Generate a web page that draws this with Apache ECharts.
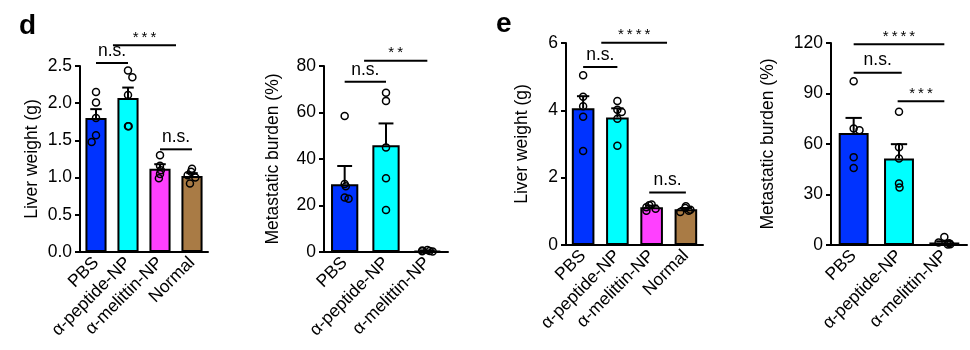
<!DOCTYPE html>
<html><head><meta charset="utf-8">
<script src="https://cdn.jsdelivr.net/npm/echarts@6/dist/echarts.min.js"></script>
<style>html,body{margin:0;padding:0;background:#fff}#c{width:970px;height:350px}</style>
</head><body><div id="c"></div>
<script>
// ---------- data ----------
const cats4 = ['PBS', 'α-peptide-NP', 'α-melittin-NP', 'Normal'];
const cats3 = ['PBS', 'α-peptide-NP', 'α-melittin-NP'];
const barColors = ['#0033ff', '#00ffff', '#ff40ff', '#a97b45'];

// panel d, liver weight (g)
const dLiverMean = [1.80, 2.07, 1.12, 1.02];
const dLiverErrTop = [1.92, 2.21, 1.18, 1.06];
const dLiverPts = [
  [2.15, 2.01, 1.80, 1.57, 1.48],
  [2.44, 2.35, 2.11, 1.69, 1.69],
  [1.30, 1.16, 1.10, 1.05, 0.99],
  [1.12, 1.08, 1.03, 1.00, 0.92]
];
const dLiverSig = [[0, 1, 2.54, 'n.s.'], [0.53, 2.5, 2.78, '***'], [2, 3, 1.38, 'n.s.']];

// panel d, metastatic burden (%)
const dMetMean = [29.1, 45.9, 0.5];
const dMetErrTop = [37.0, 55.3, 0.7];
const dMetPts = [
  [58.5, 29.2, 28.3, 23.4, 22.9],
  [68.5, 65.0, 45.0, 31.7, 18.1],
  [0.9, 0.6, 0.4, 0.3, 0.2]
];
const dMetSig = [[0, 1, 73.2, 'n.s.'], [0.47, 2, 82.3, '**']];

// panel e, liver weight (g)
const eLiverMean = [4.06, 3.79, 1.12, 1.06];
const eLiverErrTop = [4.42, 4.06, 1.17, 1.10];
const eLiverPts = [
  [5.04, 4.40, 4.12, 3.81, 2.79],
  [4.28, 4.02, 3.95, 3.75, 2.95],
  [1.20, 1.18, 1.12, 1.08, 1.02],
  [1.15, 1.10, 1.05, 1.02, 0.98]
];
const eLiverSig = [[0, 1, 5.29, 'n.s.'], [0.53, 2.45, 6.01, '****'], [1.93, 3, 1.56, 'n.s.']];

// panel e, metastatic burden (%)
const eMetMean = [66.6, 51.4, 1.5];
const eMetErrTop = [75.5, 59.9, 2.2];
const eMetPts = [
  [97.3, 69.2, 68.2, 52.2, 45.7],
  [79.1, 58.0, 51.4, 36.6, 34.2],
  [4.8, 1.5, 1.0, 0.5, 0.3]
];
const eMetSig = [[0, 2, 119.2, '****'], [0, 1.06, 102.4, 'n.s.'], [0.97, 2, 85.4, '***']];

// ---------- chart ----------
const FONT = 'Liberation Sans, Arial, Helvetica, sans-serif';
const FS = 17.5;
const panels = [
  {cats: cats4, mean: dLiverMean, err: dLiverErrTop, pts: dLiverPts, sig: dLiverSig,
   grid: {left: 80, top: 66, width: 128, height: 186}, min: 0, max: 2.5, interval: 0.5, dec: 1,
   name: 'Liver weight (g)', nameGap: 39},
  {cats: cats3, mean: dMetMean, err: dMetErrTop, pts: dMetPts, sig: dMetSig,
   grid: {left: 324, top: 66, width: 124, height: 186}, min: 0, max: 80, interval: 20, dec: 0,
   name: 'Metastatic burden (%)', nameGap: 42},
  {cats: cats4, mean: eLiverMean, err: eLiverErrTop, pts: eLiverPts, sig: eLiverSig,
   grid: {left: 566, top: 43, width: 137, height: 202}, min: 0, max: 6, interval: 2, dec: 0,
   name: 'Liver weight (g)', nameGap: 35},
  {cats: cats3, mean: eMetMean, err: eMetErrTop, pts: eMetPts, sig: eMetSig,
   grid: {left: 831, top: 43, width: 136, height: 202}, min: 0, max: 120, interval: 30, dec: 0,
   name: 'Metastatic burden (%)', nameGap: 54}
];

function catX(api, v, y) {
  const base = Math.floor(v);
  const pt = api.coord([base, y]);
  return [pt[0] + (v - base) * api.size([1, 0])[0], pt[1]];
}

const grids = [], xAxes = [], yAxes = [], series = [];
const axisLineStyle = {color: '#000', width: 2};
panels.forEach((p, gi) => {
  grids.push(Object.assign({}, p.grid));
  xAxes.push({
    type: 'category', gridIndex: gi, data: p.cats,
    jitter: 12, jitterOverlap: false, jitterMargin: 1,
    axisLine: {lineStyle: axisLineStyle},
    axisTick: {alignWithLabel: true, length: 5, lineStyle: {color: '#000', width: 2}},
    axisLabel: {rotate: 45, interval: 0, fontSize: FS, color: '#000', fontFamily: FONT, margin: 8}
  });
  yAxes.push({
    type: 'value', gridIndex: gi, min: p.min, max: p.max, interval: p.interval,
    axisLine: {show: true, lineStyle: axisLineStyle},
    axisTick: {show: true, length: 5, lineStyle: {color: '#000', width: 2}},
    splitLine: {show: false},
    axisLabel: {fontSize: FS, color: '#000', fontFamily: FONT, margin: 8,
      formatter: v => v.toFixed(p.dec)},
    name: p.name, nameLocation: 'middle', nameGap: p.nameGap,
    nameTextStyle: {fontSize: FS, color: '#000', fontFamily: FONT}
  });
  series.push({
    type: 'bar', xAxisIndex: gi, yAxisIndex: gi, barWidth: '66%',
    data: p.mean.map((v, i) => ({value: v, itemStyle: {color: barColors[i]}})),
    itemStyle: {borderColor: '#000', borderWidth: 2},
    silent: true, z: 2
  });
  series.push({
    type: 'custom', xAxisIndex: gi, yAxisIndex: gi, z: 3,
    data: p.mean.map((v, i) => [i, v, p.err[i]]),
    renderItem: (params, api) => {
      const a = api.coord([api.value(0), api.value(1)]);
      const b = api.coord([api.value(0), api.value(2)]);
      const w = api.size([1, 0])[0] * 0.36;
      return {type: 'group', children: [
        {type: 'line', shape: {x1: a[0], y1: a[1], x2: b[0], y2: b[1]}, style: {stroke: '#000', lineWidth: 2}},
        {type: 'line', shape: {x1: b[0] - w / 2, y1: b[1], x2: b[0] + w / 2, y2: b[1]}, style: {stroke: '#000', lineWidth: 2}}
      ]};
    }
  });
  const sd = [];
  p.pts.forEach((arr, i) => arr.forEach(v => sd.push([i, v])));
  series.push({
    type: 'scatter', xAxisIndex: gi, yAxisIndex: gi, z: 4,
    symbol: 'circle', symbolSize: 7, data: sd,
    itemStyle: {color: 'rgba(255,255,255,0)', borderColor: '#000', borderWidth: 1.5, opacity: 1}
  });
  series.push({
    type: 'custom', xAxisIndex: gi, yAxisIndex: gi, z: 5, clip: false,
    data: p.sig.map(s => [s[0], s[1], s[2]]),
    renderItem: (params, api) => {
      const s = p.sig[params.dataIndex];
      const a = catX(api, s[0], s[2]);
      const b = catX(api, s[1], s[2]);
      const star = s[3].indexOf('*') >= 0;
      const txt = star ? s[3].split('').join('\u2009') : s[3];
      return {type: 'group', children: [
        {type: 'line', shape: {x1: a[0], y1: a[1], x2: b[0], y2: b[1]}, style: {stroke: '#000', lineWidth: 2}},
        {type: 'text', x: (a[0] + b[0]) / 2, y: a[1] - (star ? 0 : 3),
         style: {text: txt, fill: '#000', fontSize: star ? 15 : FS, fontFamily: FONT,
                 align: 'center', verticalAlign: 'bottom'}}
      ]};
    }
  });
});

const chart = echarts.init(document.getElementById('c'), null, {renderer: 'canvas'});
chart.setOption({
  animation: false,
  backgroundColor: '#fff',
  grid: grids, xAxis: xAxes, yAxis: yAxes, series: series,
  graphic: [
    {type: 'text', left: 19, top: 12, style: {text: 'd', fontSize: 28, fontWeight: 'bold', fill: '#000', fontFamily: FONT}},
    {type: 'text', left: 496, top: 10, style: {text: 'e', fontSize: 28, fontWeight: 'bold', fill: '#000', fontFamily: FONT}}
  ]
});
</script></body></html>
